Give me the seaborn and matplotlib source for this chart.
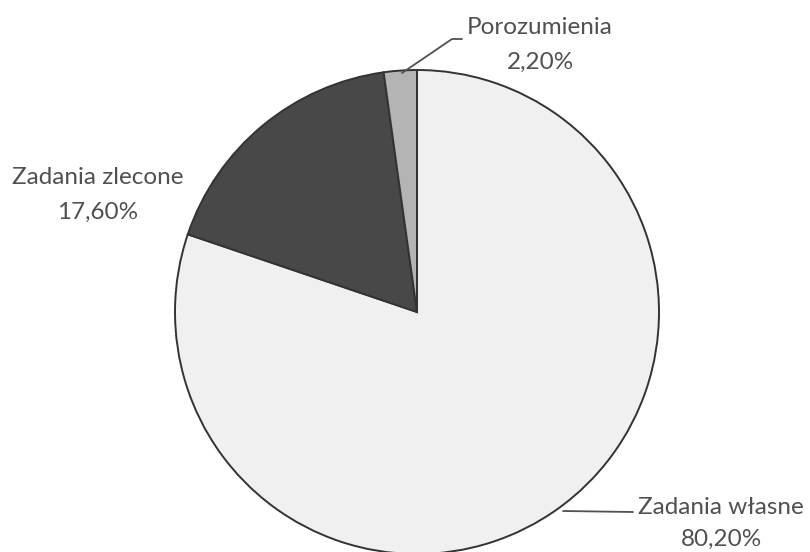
import matplotlib
matplotlib.use("Agg")
import matplotlib.pyplot as plt
import seaborn as sns

sns.set_theme(style="white")
plt.rcParams['font.family'] = ['Lato', 'DejaVu Sans']

labels = ['Zadania własne', 'Zadania zlecone', 'Porozumienia']
shares = [80.2, 17.6, 2.2]
colors = ['#f0f0f0', '#484848', '#b4b4b4']

fig = plt.figure(figsize=(8.1, 5.52), dpi=100)
ax = fig.add_axes([0, 0, 1, 1])

# pie in pixel-like coords (y measured from bottom)
cx, cy, r = 417, 240, 242
ax.pie(shares, colors=colors, startangle=90, counterclock=False,
       center=(cx, cy), radius=r, frame=True,
       wedgeprops=dict(edgecolor='#333333', linewidth=1.4))
ax.set_xlim(0, 810)
ax.set_ylim(0, 552)
ax.set_aspect('equal')
ax.axis('off')

txt = dict(color='#505050', fontsize=17.5, ha='center', va='center')

def fmt(v):
    return f"{v:.2f}".replace('.', ',') + '%'

ax.text(540, 552 - 28, labels[2], **txt)
ax.text(540, 552 - 62, fmt(shares[2]), **txt)
ax.plot([402, 452, 462], [552 - 73, 552 - 39, 552 - 39], color='#505050', lw=1.3)

ax.text(98, 552 - 178, labels[1], **txt)
ax.text(98, 552 - 212, fmt(shares[1]), **txt)

ax.text(721, 552 - 507, labels[0], **txt)
ax.text(721, 552 - 539, fmt(shares[0]), **txt)
ax.plot([563, 633], [552 - 511, 552 - 512], color='#505050', lw=1.3)

fig.savefig('out.png', dpi=100, facecolor='white')
